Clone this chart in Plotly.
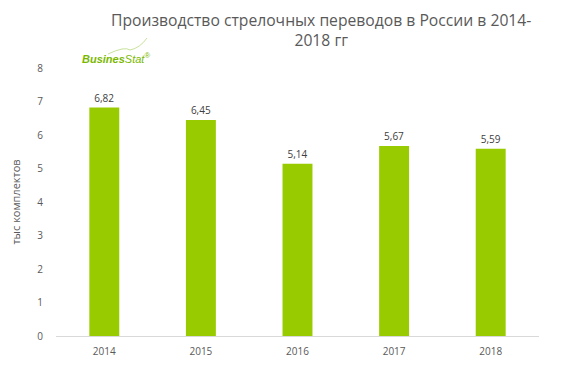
import plotly.graph_objects as go

years = ["2014", "2015", "2016", "2017", "2018"]
values = [6.82, 6.45, 5.14, 5.67, 5.59]
value_labels = ["6,82", "6,45", "5,14", "5,67", "5,59"]
y_ticks = [0, 1, 2, 3, 4, 5, 6, 7, 8]

OFF = 8  # page body margin
W, H = 563, 381
L, T = 56 - OFF, 68 - OFF
PW, PH = 483, 268
R, B = W - L - PW, H - T - PH


def px(x):
    return (x - OFF - L) / PW


def py(y):
    return (T + PH - (y - OFF)) / PH


fig = go.Figure()
fig.add_trace(go.Bar(
    x=years, y=values,
    marker=dict(color="#99cc00", line=dict(width=0)),
    text=value_labels, textposition="outside",
    textfont=dict(family="Open Sans, Liberation Sans", size=10, color="#404040"),
    cliponaxis=False,
))

fig.update_layout(
    width=W, height=H,
    margin=dict(l=L, r=R, t=T, b=B, autoexpand=False),
    paper_bgcolor="white", plot_bgcolor="white",
    bargap=0.69,
    showlegend=False,
    xaxis=dict(
        automargin=False,
        showgrid=False, showline=True, linecolor="#d9d9d9", linewidth=1,
        ticks="", tickfont=dict(family="Open Sans, Liberation Sans", size=10, color="#595959"),
        ticklabelstandoff=6,
    ),
    yaxis=dict(
        automargin=False,
        range=[0, 8], tickvals=y_ticks, showgrid=False, zeroline=False, showline=False,
        ticks="", tickfont=dict(family="Open Sans, Liberation Sans", size=10, color="#595959"),
        ticklabelstandoff=12,
        title=dict(text="тыс комплектов", standoff=14,
                   font=dict(family="Open Sans, Liberation Sans", size=11, color="#595959")),
    ),
)

fig.add_annotation(
    xref="paper", yref="paper", x=px(321), y=py(30),
    xanchor="center", yanchor="middle", showarrow=False, align="center",
    text="Производство стрелочных переводов в России в 2014-<br>2018 гг",
    font=dict(family="Open Sans, Liberation Sans", size=15.7, color="#595959"),
)

fig.add_annotation(
    xref="paper", yref="paper", x=px(80), y=py(58),
    xanchor="left", yanchor="middle", showarrow=False,
    text="<b><i>Busines</i></b><i>Stat</i><sup>®</sup>",
    font=dict(family="Liberation Sans", size=11, color="#7ab800"),
)
fig.add_shape(
    type="path", xref="paper", yref="paper",
    path=f"M {px(108)} {py(54)} Q {px(125)} {py(46)} {px(130)} {py(50)} Q {px(140)} {py(48)} {px(147)} {py(38)}",
    line=dict(color="#c8e29a", width=1),
)

fig.write_html("out.html")
